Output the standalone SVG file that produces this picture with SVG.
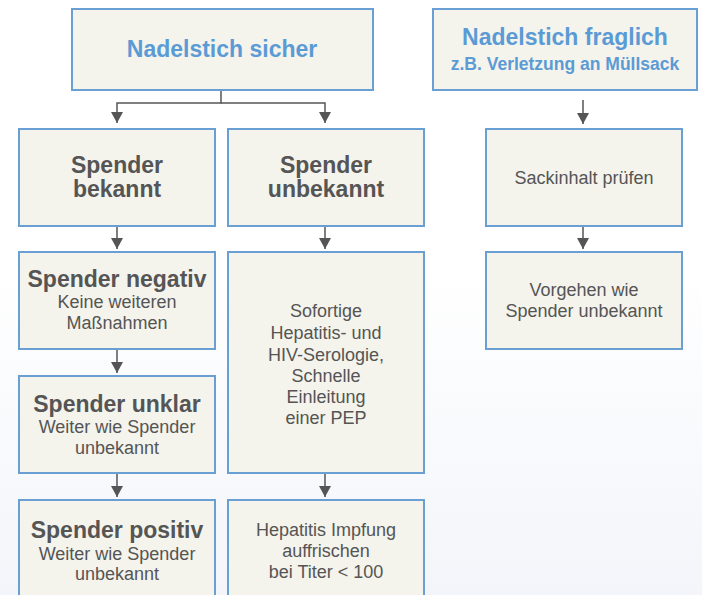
<svg xmlns="http://www.w3.org/2000/svg" width="702" height="595" viewBox="0 0 702 595">
<defs>
<linearGradient id="bg" x1="0" y1="0" x2="0" y2="1">
<stop offset="0" stop-color="#ffffff"/>
<stop offset="0.45" stop-color="#ffffff"/>
<stop offset="1" stop-color="#f3f5fa"/>
</linearGradient>
<marker id="ah" markerUnits="userSpaceOnUse" markerWidth="12" markerHeight="16" refX="11" refY="6" orient="auto" viewBox="0 0 12 12">
<path d="M0,0 L11,6 L0,12 Z" fill="#555555"/>
</marker>
<style>
.box{fill:#f4f3ec;stroke:#6a9fd4;stroke-width:2}
.t{font-family:"Liberation Sans",Arial,sans-serif;fill:#555555;text-anchor:middle}
.h{font-size:23px;font-weight:bold}
.s{font-size:18px}
.blue{fill:#5b9bd5}
.c{fill:none;stroke:#555555;stroke-width:1.5}
</style>
</defs>
<rect x="0" y="0" width="702" height="595" fill="url(#bg)"/>

<g id="connectors">
<path class="c" d="M221,90 V103 H117 V123" marker-end="url(#ah)"/>
<path class="c" d="M221,103 H325 V123" marker-end="url(#ah)"/>
<path class="c" d="M583,100 V124" marker-end="url(#ah)"/>
<path class="c" d="M117,227 V249" marker-end="url(#ah)"/>
<path class="c" d="M325,227 V249" marker-end="url(#ah)"/>
<path class="c" d="M583,227 V249" marker-end="url(#ah)"/>
<path class="c" d="M117,350 V373" marker-end="url(#ah)"/>
<path class="c" d="M117,474 V497" marker-end="url(#ah)"/>
<path class="c" d="M325,474 V497" marker-end="url(#ah)"/>
</g>

<g id="n-sicher">
<rect class="box" x="72" y="9" width="301" height="81"/>
<text class="t h blue" x="222" y="57">Nadelstich sicher</text>
</g>
<g id="n-fraglich">
<rect class="box" x="433" y="9" width="264" height="81"/>
<text class="t h blue" x="565" y="45">Nadelstich fraglich</text>
<text class="t blue" x="565" y="70" style="font-size:17.5px;font-weight:bold">z.B. Verletzung an Müllsack</text>
</g>
<g id="n-bekannt">
<rect class="box" x="19" y="129" width="196" height="97"/>
<text class="t h" x="117" y="173">Spender</text>
<text class="t h" x="117" y="197">bekannt</text>
</g>
<g id="n-unbekannt">
<rect class="box" x="228" y="129" width="196" height="97"/>
<text class="t h" x="326" y="173">Spender</text>
<text class="t h" x="326" y="197">unbekannt</text>
</g>
<g id="n-sack">
<rect class="box" x="486" y="129" width="196" height="97"/>
<text class="t s" x="584" y="184">Sackinhalt prüfen</text>
</g>
<g id="n-negativ">
<rect class="box" x="19" y="252" width="196" height="97"/>
<text class="t h" x="117" y="287">Spender negativ</text>
<text class="t s" x="117" y="308">Keine weiteren</text>
<text class="t s" x="117" y="329">Maßnahmen</text>
</g>
<g id="n-sofort">
<rect class="box" x="228" y="252" width="196" height="221"/>
<text class="t s" x="326" y="317">Sofortige</text>
<text class="t s" x="326" y="339">Hepatitis- und</text>
<text class="t s" x="326" y="361">HIV-Serologie,</text>
<text class="t s" x="326" y="382">Schnelle</text>
<text class="t s" x="326" y="403">Einleitung</text>
<text class="t s" x="326" y="424">einer PEP</text>
</g>
<g id="n-vorgehen">
<rect class="box" x="486" y="252" width="196" height="97"/>
<text class="t s" x="584" y="296">Vorgehen wie</text>
<text class="t s" x="584" y="317">Spender unbekannt</text>
</g>
<g id="n-unklar">
<rect class="box" x="19" y="376" width="196" height="97"/>
<text class="t h" x="117" y="412">Spender unklar</text>
<text class="t s" x="117" y="433">Weiter wie Spender</text>
<text class="t s" x="117" y="454">unbekannt</text>
</g>
<g id="n-positiv">
<rect class="box" x="19" y="500" width="196" height="110"/>
<text class="t h" x="117" y="538">Spender positiv</text>
<text class="t s" x="117" y="560">Weiter wie Spender</text>
<text class="t s" x="117" y="580">unbekannt</text>
</g>
<g id="n-impfung">
<rect class="box" x="228" y="500" width="196" height="110"/>
<text class="t s" x="326" y="536">Hepatitis Impfung</text>
<text class="t s" x="326" y="557">auffrischen</text>
<text class="t s" x="326" y="578">bei Titer &lt; 100</text>
</g>
</svg>
